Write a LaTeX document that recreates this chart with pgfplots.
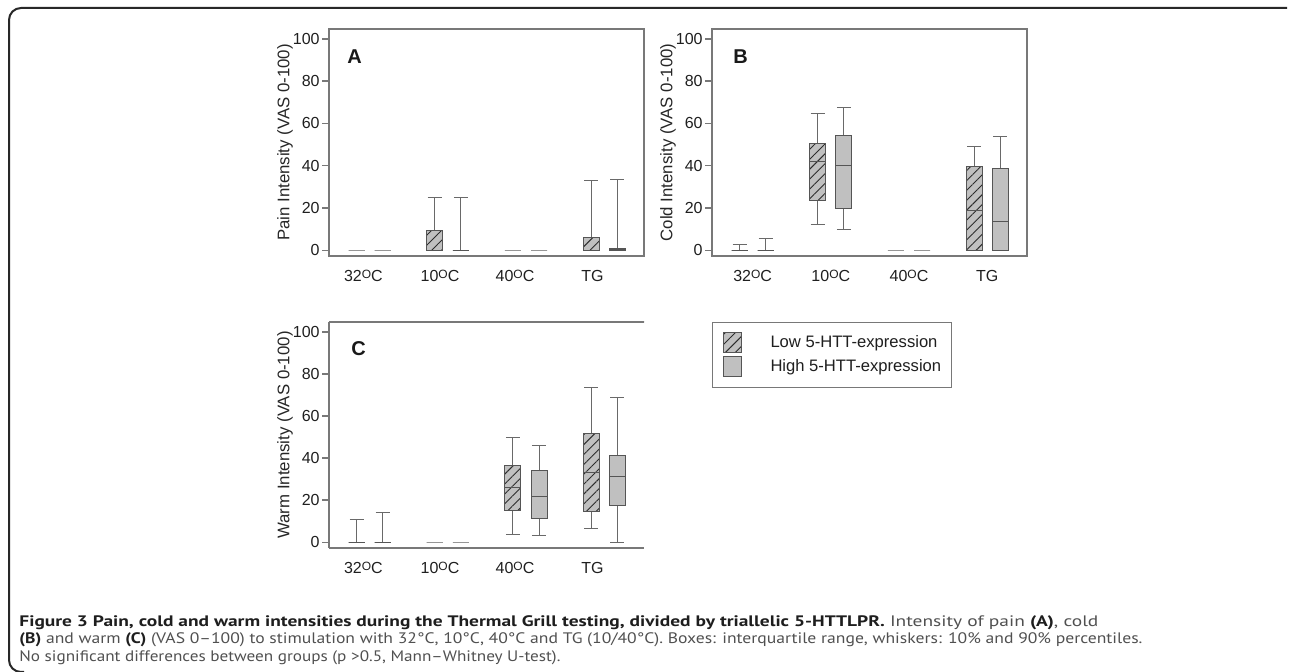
\documentclass[border=0pt]{standalone}
\usepackage{pgfplots}
\pgfplotsset{compat=1.18}
\usepgfplotslibrary{statistics}
\usetikzlibrary{patterns.meta}
\usepackage{fontspec}
\setmainfont{Liberation Sans}
\newfontfamily\capfont{PT Sans}
\definecolor{axgray}{RGB}{120,120,120}
\definecolor{boxfill}{RGB}{192,192,192}
\definecolor{boxline}{RGB}{85,85,85}
\definecolor{whisk}{RGB}{105,105,105}
\definecolor{zerog}{RGB}{150,150,150}
\definecolor{hatch}{RGB}{45,45,45}
\definecolor{captxt}{RGB}{80,80,80}
\definecolor{capbold}{RGB}{30,30,30}
\definecolor{framec}{RGB}{40,40,40}

\newcommand{\dg}{\raisebox{1.7pt}{\fontsize{6}{6}\selectfont O}}
\tikzset{hatchfill/.style={postaction={pattern={Lines[angle=45,distance=3.5pt,line width=0.45pt]},pattern color=hatch}}}

\pgfplotsset{
  panel/.style={
    scale only axis, width=157.5pt, height=113.5pt,
    xmin=0.48, xmax=4.51, ymin=-2.7, ymax=104.7,
    axis line style={axgray, line width=0.75pt},
    ytick={0,20,40,60,80,100},
    ytick pos=left, tick align=outside, major tick length=3.5pt,
    ytick style={axgray, line width=0.75pt},
    xtick style={draw=none},
    xticklabels={32\dg C,10\dg C,40\dg C,TG},
    /pgf/number format/assume math mode=true,
    tick label style={font=\fontsize{8}{9.5}\selectfont, text=black!88},
    yticklabel style={inner sep=1pt},
    every axis y label/.style={at={(axis description cs:-0.1397,0.5)}, rotate=90, anchor=center, font=\fontsize{8.4}{10}\selectfont, text=black!85},
  },
  lowbox/.style={draw=whisk, line width=0.5pt, boxplot/draw direction=y,
    boxplot/box extend=0.205, boxplot/whisker extend=0.18,
    boxplot/every box/.style={draw=boxline, fill=boxfill, hatchfill},
    boxplot/every median/.style={draw=boxline}},
  highbox/.style={draw=whisk, line width=0.5pt, boxplot/draw direction=y,
    boxplot/box extend=0.205, boxplot/whisker extend=0.18,
    boxplot/every box/.style={draw=boxline, fill=boxfill},
    boxplot/every median/.style={draw=boxline}},
  zerobox/.style={draw=zerog, line width=0.5pt, boxplot/draw direction=y,
    boxplot/box extend=0.205, boxplot/whisker extend=0.18,
    boxplot/every box/.style={draw=zerog},
    boxplot/every median/.style={draw=zerog}},
}
% style, position, lower whisker, lower quartile, median, upper quartile, upper whisker
\newcommand{\bx}[7]{\addplot[#1, forget plot, boxplot prepared={draw position=#2, lower whisker=#3, lower quartile=#4, median=#5, upper quartile=#6, upper whisker=#7}] coordinates {};}

\begin{document}
\begin{tikzpicture}
\useasboundingbox (0,0) rectangle (645pt,-336pt);
\draw[framec, line width=1pt] (643.5pt,-4pt) -- (10.5pt,-4pt) arc[start angle=90,end angle=180,radius=6pt] -- (4.5pt,-330pt) arc[start angle=180,end angle=270,radius=6pt] -- (12pt,-336pt);

% Panel A
\begin{axis}[panel, at={(164.5pt,-128pt)}, anchor=south west,
  xtick={0.92,1.90,2.86,3.85}, ylabel={Pain Intensity (VAS 0-100)}]
\bx{zerobox}{0.833}{0}{0}{0}{0}{0}
\bx{zerobox}{1.167}{0}{0}{0}{0}{0}
\bx{lowbox}{1.833}{0}{0}{0}{9.5}{24.8}
\bx{highbox}{2.167}{0}{0}{0}{0}{24.8}
\bx{zerobox}{2.833}{0}{0}{0}{0}{0}
\bx{zerobox}{3.167}{0}{0}{0}{0}{0}
\bx{lowbox}{3.833}{0}{0}{0}{6.0}{32.8}
\bx{highbox}{4.167}{0}{0}{0.5}{1.0}{33.6}
\node[anchor=base west, inner sep=0, font=\bfseries\fontsize{10}{12}\selectfont, text=black!90] at (rel axis cs:0.057,0.85) {A};
\end{axis}

% Panel B
\begin{axis}[panel, at={(356pt,-128pt)}, anchor=south west,
  xtick={1,2,3,4}, ylabel={Cold Intensity (VAS 0-100)},
  legend style={at={(axis description cs:0,-0.2907)}, anchor=north west, draw=axgray, line width=0.5pt, inner xsep=5pt, inner ysep=5pt, nodes={inner sep=0pt}, row sep=1.5pt, font=\fontsize{8.3}{10}\selectfont, text=black!88, cells={anchor=west}, fill=white}]
\bx{highbox}{0.833}{0}{0}{0}{0}{2.8}
\bx{highbox}{1.167}{0}{0}{0}{0}{5.5}
\bx{lowbox}{1.833}{12.3}{23.4}{42.2}{50.6}{64.8}
\bx{highbox}{2.167}{10}{20}{40}{54.5}{67.6}
\bx{zerobox}{2.833}{0}{0}{0}{0}{0}
\bx{zerobox}{3.167}{0}{0}{0}{0}{0}
\bx{lowbox}{3.833}{0}{0}{18.6}{39.8}{49.3}
\bx{highbox}{4.167}{0}{0}{13.7}{38.7}{53.7}
\addlegendimage{legend image code/.code={\draw[draw=boxline, line width=0.5pt, fill=boxfill, hatchfill] (0pt,-5pt) rectangle (9pt,5pt); \path (23.5pt,0pt);}}
\addlegendentry{Low 5-HTT-expression}
\addlegendimage{legend image code/.code={\draw[draw=boxline, line width=0.5pt, fill=boxfill] (0pt,-5pt) rectangle (9pt,5pt); \path (23.5pt,0pt);}}
\addlegendentry{High 5-HTT-expression}
\node[anchor=base west, inner sep=0, font=\bfseries\fontsize{10}{12}\selectfont, text=black!90] at (rel axis cs:0.0667,0.85) {B};
\end{axis}

% Panel C
\begin{axis}[panel, at={(164.5pt,-274pt)}, anchor=south west, height=113pt,
  axis x line*=box, axis y line*=left, axis line style={-},
  xtick={0.92,1.90,2.86,3.85}, ylabel={Warm Intensity (VAS 0-100)}]
\bx{highbox}{0.833}{0}{0}{0}{0}{10.9}
\bx{highbox}{1.167}{0}{0}{0}{0}{14.1}
\bx{zerobox}{1.833}{0}{0}{0}{0}{0}
\bx{zerobox}{2.167}{0}{0}{0}{0}{0}
\bx{lowbox}{2.833}{3.6}{15.2}{25.9}{36.6}{49.6}
\bx{highbox}{3.167}{3.3}{11.2}{21.7}{34}{46.1}
\bx{lowbox}{3.833}{6.5}{14.5}{33.3}{51.8}{73.8}
\bx{highbox}{4.167}{0}{17.5}{31.1}{41.2}{68.9}
\draw[axgray, line width=0.75pt] (rel axis cs:1,1) -- ++(0,-2.5pt);
\node[anchor=base west, inner sep=0, font=\bfseries\fontsize{10}{12}\selectfont, text=black!90] at (rel axis cs:0.07,0.85) {C};
\end{axis}

% Caption
\node[anchor=base west, inner sep=0, text=captxt] at (9.5pt,-313.5pt) {\capfont\fontsize{7.6}{9}\selectfont\resizebox{539.5pt}{\height}{\textcolor{capbold}{\bfseries Figure 3 Pain, cold and warm intensities during the Thermal Grill testing, divided by triallelic 5-HTTLPR.} Intensity of pain \textcolor{capbold}{\bfseries (A)}, cold}};
\node[anchor=base west, inner sep=0, text=captxt] at (9.5pt,-322pt) {\capfont\fontsize{7.6}{9}\selectfont\resizebox{561.5pt}{\height}{\textcolor{capbold}{\bfseries (B)} and warm \textcolor{capbold}{\bfseries (C)} (VAS 0–100) to stimulation with 32°C, 10°C, 40°C and TG (10/40°C). Boxes: interquartile range, whiskers: 10\% and 90\% percentiles.}};
\node[anchor=base west, inner sep=0, text=captxt] at (9.5pt,-331pt) {\capfont\fontsize{7.6}{9}\selectfont\resizebox{270.5pt}{\height}{No significant differences between groups (p >0.5, Mann–Whitney U-test).}};
\end{tikzpicture}
\end{document}
